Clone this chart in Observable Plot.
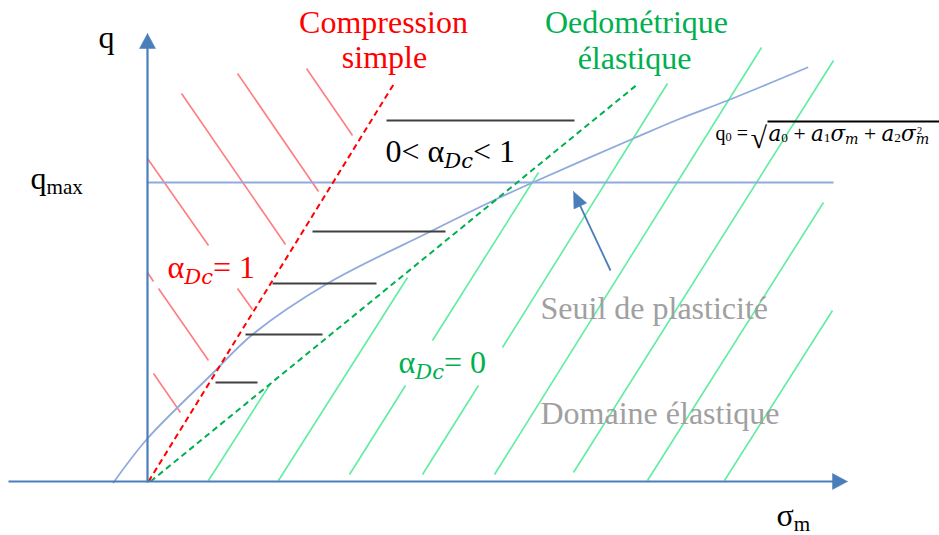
<!DOCTYPE html>
<html>
<head>
<meta charset="utf-8">
<script src="https://cdn.jsdelivr.net/npm/d3@7"></script>
<script src="https://cdn.jsdelivr.net/npm/@observablehq/plot@0.6"></script>
<style>
  body { margin: 0; background: #ffffff; }
  #chart svg { display: block; }
</style>
</head>
<body>
<div id="chart"></div>
<script>
// ---------- Diagram data (s = σm to the right, q upwards; origin where the axes cross) ----------

// Plasticity threshold q0 = sqrt(a0 + a1 σm + a2 σm²)
const curveS = [-34, 0, 65, 105, 180, 283, 346, 383, 486, 533, 580, 660];
const curveQ = [-1, 43, 108, 147, 198, 250, 281, 298, 343, 363, 381, 414];

// q max level
const qMaxLevel = [299];
const qMaxFrom = [0];
const qMaxTo = [686];

// Stress paths (dashed): compression simple (αDc = 1) and oedometric elastic (αDc = 0)
const pathName = ["Compression simple", "Oedométrique élastique"];
const pathS1 = [1, 3];
const pathQ1 = [0, 0];
const pathS2 = [246, 491];
const pathQ2 = [397, 398];

// Red hatching (zone αDc = 1 side)
const redS1 = [0, 90, 34, 90, 159, 0, 11, 6];
const redQ1 = [323, 193, 388, 408, 413, 209, 193, 108];
const redS2 = [61, 105, 138, 171, 205, 6, 61, 33];
const redQ2 = [236, 172, 237, 290, 346, 200, 121, 69];

// Green hatching (elastic domain)
const greenS1 = [61, 131, 202, 285, 275, 355, 347, 426, 500, 577];
const greenQ1 = [1, 1, 7, 141, 7, 134, 7, 9, 1, 1];
const greenS2 = [123, 260, 258, 391, 331, 520, 614, 686, 676, 685];
const greenQ2 = [98, 204, 96, 309, 96, 398, 434, 421, 279, 171];

// Black horizontal levels (0 < αDc < 1)
const levelQ = [361, 250, 198, 147, 99];
const levelS1 = [239, 165, 125, 98, 68];
const levelS2 = [427, 298, 229, 175, 110];

// Axes (tail -> tip)
const axisS1 = [0, -139];
const axisQ1 = [-1, 0];
const axisS2 = [0, 700];
const axisQ2 = [448, 0];

// Pointer arrow towards the threshold
const pointerS1 = [463];
const pointerQ1 = [211];
const pointerS2 = [426];
const pointerQ2 = [290];

// Square root vinculum of the formula
const rootBarS1 = [620];
const rootBarS2 = [792];
const rootBarQ = [360];

// Labels
const labelText = ["q", "q_{max}", "σ_{m}",
  "Compression", "simple", "α_[Dc]= 1",
  "Oedométrique", "élastique", "α_[Dc]= 0",
  "0< α_[Dc]< 1",
  "Seuil de plasticité", "Domaine élastique",
  "q_{0} =", "√", "[a]_{0} + [a]_{1}[σ]_[m] + [a]_{2}[σ]_[m]^{2}"];
const labelS = [-49, -117, 629, 236, 237, 20, 489, 487, 251, 238, 393, 393, 568, 603, 621];
const labelQ = [434, 293, -44, 449, 414, 204, 449, 413, 109, 320, 163, 58, 342, 334, 341];
const labelRole = ["axis", "axis", "axis", "redTitle", "redTitle", "red", "greenTitle", "greenTitle", "green",
  "black", "gray", "gray", "formula", "root", "formulaMath"];

// ---------- Styles ----------
const C = {
  axis: "#4A7EBB", curve: "#8FAADC", red: "#FF0000", redHatch: "#FF7C80",
  green: "#00B050", greenHatch: "#5FEDA0", level: "#404040", gray: "#A0A0A0"
};
const roleStyle = {
  axis: {fill: "#000000", fontSize: 32, textAnchor: "start"},
  redTitle: {fill: C.red, fontSize: 32, textAnchor: "middle"},
  red: {fill: C.red, fontSize: 32, textAnchor: "start"},
  greenTitle: {fill: C.green, fontSize: 32, textAnchor: "middle"},
  green: {fill: C.green, fontSize: 32, textAnchor: "start"},
  black: {fill: "#000000", fontSize: 32, textAnchor: "start"},
  gray: {fill: C.gray, fontSize: 32, textAnchor: "start"},
  formula: {fill: "#000000", fontSize: 20, textAnchor: "start"},
  formulaMath: {fill: "#000000", fontSize: 21.5, textAnchor: "start"},
  root: {fill: "#000000", fontSize: 30, textAnchor: "start"}
};

// ---------- Tables ----------
const segs = (s1, q1, s2, q2) => s1.map((_, i) => ({s1: s1[i], q1: q1[i], s2: s2[i], q2: q2[i]}));
const curve = curveS.map((s, i) => ({s, q: curveQ[i]}));
const paths = pathName.map((name, i) => ({name, s1: pathS1[i], q1: pathQ1[i], s2: pathS2[i], q2: pathQ2[i]}));
const redHatch = segs(redS1, redQ1, redS2, redQ2);
const greenHatch = segs(greenS1, greenQ1, greenS2, greenQ2);
const levels = segs(levelS1, levelQ, levelS2, levelQ);
const qMaxLine = segs(qMaxFrom, qMaxLevel, qMaxTo, qMaxLevel);
const rootBar = segs(rootBarS1, rootBarQ, rootBarS2, rootBarQ);
const labels = labelText.map((text, i) => ({text, s: labelS[i], q: labelQ[i], role: labelRole[i]}));

// arrow shafts + filled heads (diagram units are 1:1 with pixels)
function arrowParts(arrows, headLen, headWidth, id0) {
  const shafts = [], heads = [];
  arrows.forEach((a, i) => {
    const dx = a.s2 - a.s1, dy = a.q2 - a.q1, L = Math.hypot(dx, dy);
    const ux = dx / L, uy = dy / L, px = -uy, py = ux;
    const bs = a.s2 - ux * headLen, bq = a.q2 - uy * headLen;
    shafts.push({s1: a.s1, q1: a.q1, s2: bs + ux, q2: bq + uy});
    const id = id0 + i;
    heads.push({id, s: a.s2, q: a.q2});
    heads.push({id, s: bs + px * headWidth / 2, q: bq + py * headWidth / 2});
    heads.push({id, s: bs - px * headWidth / 2, q: bq - py * headWidth / 2});
    heads.push({id, s: a.s2, q: a.q2});
  });
  return {shafts, heads};
}
const axes = arrowParts(segs(axisS1, axisQ1, axisS2, axisQ2), 15, 16, 0);
const pointer = arrowParts(segs(pointerS1, pointerQ1, pointerS2, pointerQ2), 16, 14, 10);

const link = (data, o) => Plot.link(data, {x1: "s1", y1: "q1", x2: "s2", y2: "q2", ...o});

const svg = Plot.plot({
  width: 939,
  height: 535,
  margin: 0,
  x: {domain: [-147, 792], axis: null},
  y: {domain: [-54, 481], axis: null},
  style: {background: "#ffffff", fontFamily: "Liberation Serif"},
  marks: [
    link(redHatch, {stroke: C.redHatch, strokeWidth: 1.6}),
    link(greenHatch, {stroke: C.greenHatch, strokeWidth: 1.6}),
    link(qMaxLine, {stroke: C.curve, strokeWidth: 1.8}),
    Plot.line(curve, {x: "s", y: "q", curve: "catmull-rom", stroke: C.curve, strokeWidth: 1.8}),
    link(paths, {stroke: (d, i) => i === 0 ? C.red : C.green, strokeWidth: 2, strokeDasharray: "6,4"}),
    link(levels, {stroke: C.level, strokeWidth: 2.2}),
    link(axes.shafts, {stroke: C.axis, strokeWidth: 2.2}),
    Plot.line(axes.heads, {x: "s", y: "q", z: "id", fill: C.axis, stroke: C.axis, strokeWidth: 0.5}),
    link(pointer.shafts, {stroke: C.axis, strokeWidth: 1.8}),
    Plot.line(pointer.heads, {x: "s", y: "q", z: "id", fill: C.axis, stroke: C.axis, strokeWidth: 0.5}),
    link(rootBar, {stroke: "#000000", strokeWidth: 1.8}),
    ...Object.entries(roleStyle).map(([role, st]) =>
      Plot.text(labels.filter(d => d.role === role), {x: "s", y: "q", text: "text", lineAnchor: "bottom", fontFamily: "Liberation Serif", ...st}))
  ]
});

document.getElementById("chart").append(svg);

// Rich text: _{x} upright subscript, _[x] italic subscript, [x] italic math, ^{x} superscript
function richText(root) {
  const token = /(_\{[^}]*\}|_\[[^\]]*\]|\^\{[^}]*\}|\[[^\]]*\])/;
  for (const t of root.querySelectorAll("text")) {
    const s = t.textContent;
    if (!token.test(s)) continue;
    const base = parseFloat(getComputedStyle(t).fontSize);
    const small = base < 25;
    const parts = s.split(token).filter(p => p);
    t.textContent = "";
    let offset = 0, prev = null, prevSub = false;
    for (const p of parts) {
      const ts = document.createElementNS("http://www.w3.org/2000/svg", "tspan");
      let txt = p, size = base, target = 0, italic = false, sub = false, sup = false;
      if (p.startsWith("_{")) { txt = p.slice(2, -1); size = base * (small ? 0.62 : 0.66); target = base * (small ? 0.07 : 0.16); sub = true; }
      else if (p.startsWith("_[")) { txt = p.slice(2, -1); size = base * 0.66; target = base * (small ? 0.17 : 0.19); italic = true; sub = true; }
      else if (p.startsWith("^{")) { txt = p.slice(2, -1); size = base * 0.48; target = -base * 0.28; sup = true; }
      else if (p.startsWith("[")) { txt = p.slice(1, -1); italic = true; }
      ts.textContent = txt;
      ts.setAttribute("font-size", size);
      if (italic) { ts.setAttribute("font-family", "DejaVu Serif"); ts.setAttribute("font-style", "italic"); }
      if (target !== offset) { ts.setAttribute("dy", target - offset); offset = target; }
      t.appendChild(ts);
      if (sup && prevSub && prev) ts.setAttribute("dx", -prev.getComputedTextLength() * 0.9);
      prev = ts; prevSub = sub;
    }
  }
}
richText(svg);
</script>
</body>
</html>
